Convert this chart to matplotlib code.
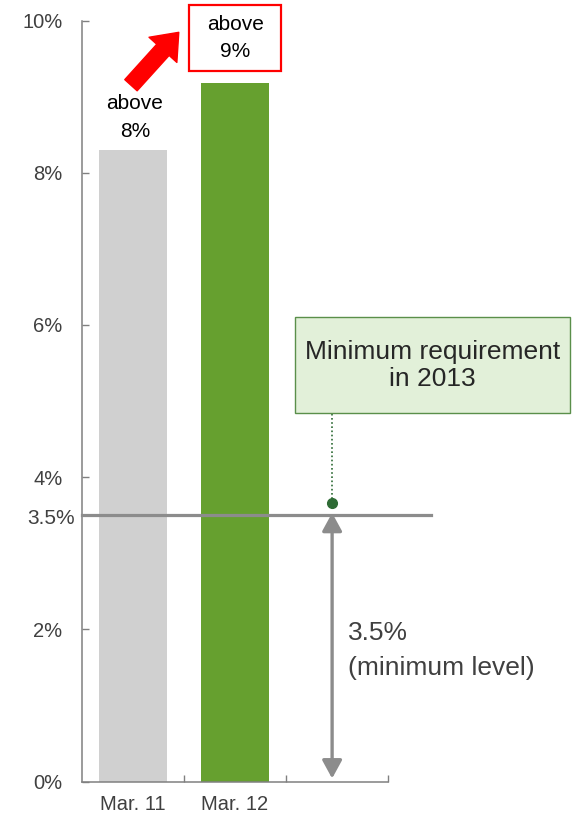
import matplotlib
matplotlib.use("Agg")
import matplotlib.pyplot as plt
from matplotlib.patches import Rectangle

# data
categories = ["Mar. 11", "Mar. 12"]
ratios = [8.3, 9.18]
bar_colors = ["#d0d0d0", "#66a02f"]
bar_notes = ["above\n8%", "above\n9%"]
min_level = 3.5
yticks = [0, 2, 4, 6, 8, 10]
ytick_labels = ["0%", "2%", "4%", "6%", "8%", "10%"]

plt.rcParams["font.family"] = ["Liberation Sans", "DejaVu Sans"]

fig = plt.figure(figsize=(5.76, 8.18), dpi=100)
ax = fig.add_axes([0.1424, 0.0446, 0.531, 0.9303])

x = list(range(len(categories)))
ax.bar(x, ratios, width=0.67, color=bar_colors, zorder=2)

ax.set_xlim(-0.5, 2.5)
ax.set_ylim(0, 10)

# axes styling
for s in ["top", "right"]:
    ax.spines[s].set_visible(False)
for s in ["left", "bottom"]:
    ax.spines[s].set_color("#808080")
    ax.spines[s].set_linewidth(1.1)

ax.set_yticks(yticks)
ax.set_yticklabels(ytick_labels)
ax.tick_params(axis="y", direction="in", length=5, width=1, color="#808080",
               pad=14, labelsize=14.5, labelcolor="#404040")
ax.set_xticks(x)
ax.set_xticklabels(categories)
ax.set_xticks([0.5, 1.5, 2.5], minor=True)
ax.tick_params(axis="x", which="major", length=0, pad=10, labelsize=14.5,
               labelcolor="#404040")
ax.tick_params(axis="x", which="minor", direction="in", length=5, width=1,
               color="#808080")

# 3.5% reference line
ax.plot([-0.5, 2.92], [min_level, min_level], color="#8c8c8c", lw=2.3,
        clip_on=False, zorder=3)
ax.annotate("3.5%", xy=(0, min_level), xycoords=("axes fraction", "data"),
            xytext=(-5, -2.5), textcoords="offset points", ha="right",
            va="center", fontsize=15, color="#404040")

# double arrow for minimum level
arrow_x = 1.953
ax.annotate("", xy=(arrow_x, 0.04), xytext=(arrow_x, min_level + 0.03),
            arrowprops=dict(arrowstyle="<|-|>,head_length=0.55,head_width=0.3",
                            mutation_scale=20, color="#8c8c8c", lw=2.4,
                            shrinkA=0, shrinkB=0), zorder=3)
ax.text(2.11, 1.72, "3.5%\n(minimum level)", ha="left", va="center",
        fontsize=19, color="#404040", linespacing=1.55)

# minimum requirement box with dotted leader
ax.plot([arrow_x, arrow_x], [min_level + 0.16, 4.84], color="#2e6b35",
        lw=1.2, ls=(0, (1, 1.5)), zorder=3)
ax.plot([arrow_x], [min_level + 0.16], "o", color="#2e6b35", ms=7, zorder=4)
ax.add_patch(Rectangle((1.593, 4.84), 4.289 - 1.593, 6.10 - 4.84,
                       facecolor="#e2f0d9", edgecolor="#5a8f4a", lw=1,
                       clip_on=False, zorder=3))
ax.text(2.94, 5.47, "Minimum requirement\nin 2013", ha="center", va="center",
        fontsize=19, color="#262626", linespacing=1.18, zorder=4)

# bar notes
ax.text(x[0] + 0.02, 8.72, bar_notes[0], ha="center", va="center",
        fontsize=15, color="black", linespacing=1.6)
ax.add_patch(Rectangle((0.55, 9.34), 1.456 - 0.55, 10.20 - 9.34,
                       facecolor="white", edgecolor="#ff0000", lw=1.6,
                       clip_on=False, zorder=3))
ax.text(1.005, 9.77, bar_notes[1], ha="center", va="center", fontsize=15,
        color="black", linespacing=1.55, zorder=4, clip_on=False)

# red growth arrow
ax.annotate("", xy=(0.449, 9.845), xytext=(-0.02, 9.15),
            arrowprops=dict(width=12, headwidth=27, headlength=17,
                            color="#ff0000", shrink=0), annotation_clip=False)

fig.savefig("out.png", dpi=100)
